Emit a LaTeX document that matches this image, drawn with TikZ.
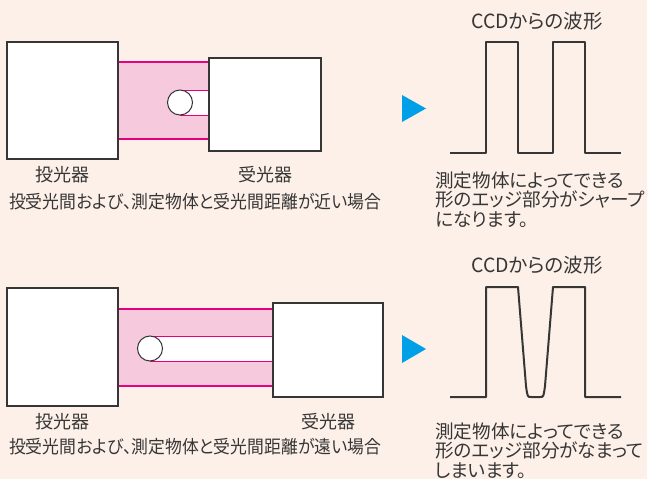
\documentclass[tikz,border=0pt]{standalone}
\usepackage{fontspec}
\usepackage{graphicx}
\setmainfont[RawFeature=+palt]{Noto Sans CJK JP}
\usetikzlibrary{positioning}
\definecolor{bgpeach}{HTML}{FDF0E8}
\definecolor{bandpink}{HTML}{F7C9DD}
\definecolor{beammag}{HTML}{E4007F}
\definecolor{arrowcyan}{HTML}{00A0E9}
\definecolor{inkgray}{HTML}{363636}
\newcommand{\tightcap}[1]{\scalebox{0.935}[1]{#1}}
\tikzset{
  unit/.style={draw=inkgray,line width=2bp,fill=white},
  beam/.style={draw=beammag,line width=2.2bp},
  edge/.style={draw=beammag,line width=0.9bp},
  wave/.style={draw=inkgray,line width=2bp,line join=round},
  lbl/.style={text=inkgray,inner sep=0pt,font=\fontsize{18bp}{19.5bp}\selectfont},
  note/.style={lbl,anchor=north west,align=left,font=\fontsize{18.6bp}{19.5bp}\selectfont},
  title/.style={lbl,font=\fontsize{19.5bp}{20bp}\selectfont}
}
\begin{document}
\begin{tikzpicture}[x=1bp,y=-1bp]
        \fill[bgpeach] (0,0) rectangle (647,479);
        \useasboundingbox (0,0) rectangle (647,479);
        % near case
        \fill[bandpink] (118,62) rectangle (209,139);
        \draw[beam] (118,62) -- (209,62);
        \draw[beam] (118,139) -- (209,139);
        \fill[white] (180,90) rectangle (209,115);
        \draw[edge] (180,90) -- (209,90);
        \draw[edge] (180,115) -- (209,115);
        \draw[draw=inkgray,fill=white,line width=1bp] (180,102.5) circle (12.5);
        \draw[unit] (7,42) rectangle (118,159);
        \draw[unit] (209,58) rectangle (321,151);
        \node[lbl] (emitA) at (62,175) {投光器};
        \node[lbl] (recvA) at (265,175) {受光器};
        \node[lbl] (capA) at (195,202) {\tightcap{投受光間および、測定物体と受光間距離が近い場合}};
        \fill[arrowcyan] (402,95) -- (402,122) -- (426,108.5) -- cycle;
        \node[title] (ccdA) at (537,21) {CCDからの波形};
        \draw[wave] (450,153) -- (486,153) -- (486,42) -- (518,42) -- (518,153) -- (553,153) -- (553,42) -- (585,42) -- (585,153) -- (621,153);
        \node[note] (noteA) at (435,171.5) {測定物体によってできる\\形のエッジ部分がシャープ\\になります。};
        % far case
        \fill[bandpink] (118,309) rectangle (273,386);
        \draw[beam] (118,309) -- (273,309);
        \draw[beam] (118,386) -- (273,386);
        \fill[white] (150,336) rectangle (273,361);
        \draw[edge] (150,336) -- (273,336);
        \draw[edge] (150,361) -- (273,361);
        \draw[draw=inkgray,fill=white,line width=1bp] (150,348.5) circle (12.5);
        \draw[unit] (7,288) rectangle (118,406);
        \draw[unit] (273,303) rectangle (383,397);
        \node[lbl] (emitB) at (62,422) {投光器};
        \node[lbl] (recvB) at (328,422) {受光器};
        \node[lbl] (capB) at (195,447) {\tightcap{投受光間および、測定物体と受光間距離が遠い場合}};
        \fill[arrowcyan] (402,335) -- (402,363) -- (426,349) -- cycle;
        \node[title] (ccdB) at (537,265) {CCDからの波形};
        \draw[wave] (450,397) -- (486,397) -- (486,287) -- (518,287) -- (526,386) .. controls (527.5,397) .. (531,397) -- (540,397) .. controls (543.5,397) .. (545,386) -- (553,287) -- (585,287) -- (585,397) -- (621,397);
        \node[note] (noteB) at (435,422.5) {測定物体によってできる\\形のエッジ部分がなまって\\しまいます。};
\end{tikzpicture}
\end{document}
